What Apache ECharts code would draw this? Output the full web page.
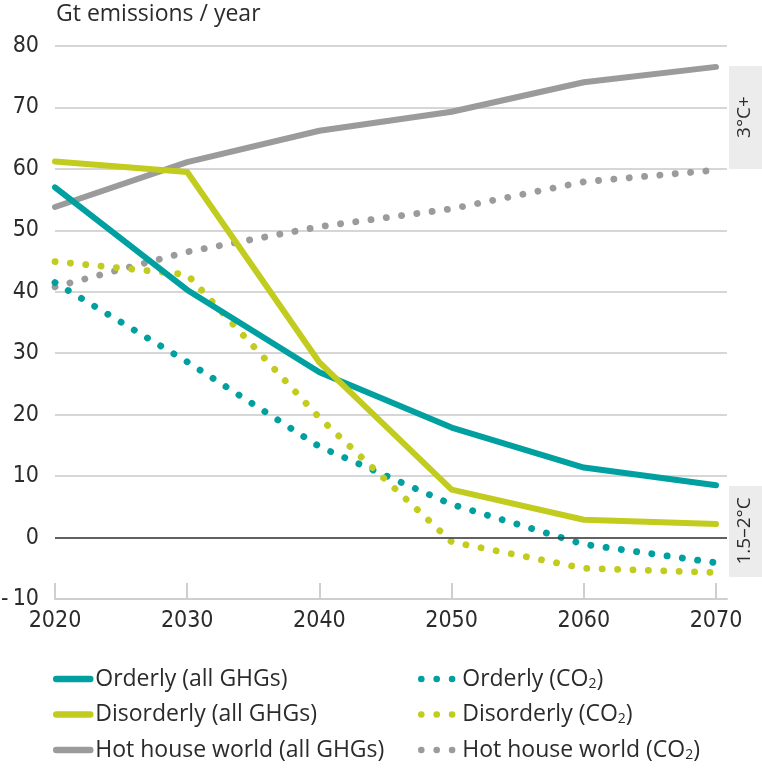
<!DOCTYPE html>
<html><head><meta charset="utf-8">
<script src="https://cdn.jsdelivr.net/npm/echarts@6/dist/echarts.min.js"></script>
<style>html,body{margin:0;padding:0;background:#fff}#c{width:762px;height:769px}</style>
</head><body><div id="c"></div>
<script>
// ---- data ----
const years = [2020, 2030, 2040, 2050, 2060, 2070];
const orderlyGHG    = [57.0, 40.3, 26.9, 17.9, 11.4, 8.5];
const disorderlyGHG = [61.2, 59.5, 28.5, 7.8, 2.9, 2.2];
const hotHouseGHG   = [53.8, 61.1, 66.2, 69.3, 74.1, 76.6];
const orderlyCO2    = [41.5, 28.6, 14.8, 5.4, -1.1, -4.1];
const disorderlyCO2 = [44.9, 42.8, 19.5, -0.7, -5.0, -5.7];
const hotHouseCO2   = [40.8, 46.5, 50.6, 53.5, 57.9, 59.8];
const seriesNamesGHG = ['Orderly (all GHGs)', 'Disorderly (all GHGs)', 'Hot house world (all GHGs)'];
const seriesNamesCO2 = ['Orderly (CO2)', 'Disorderly (CO2)', 'Hot house world (CO2)'];
const yAxisTitle = 'Gt emissions / year';
const bandLabels = ['3°C+', '1.5–2°C'];

const TEAL = '#00a0a0', LIME = '#c2cc1f', GREY = '#9b9b9b';
const AXFONT = '"DejaVu Sans Condensed", "Liberation Sans Narrow", "Liberation Sans", Arial, sans-serif';
const TXFONT = '"Open Sans", "Liberation Sans", Arial, sans-serif';

const pairs = arr => years.map((y, i) => [y, arr[i]]);

function solid(name, data, color) {
  return { name, type: 'line', data: pairs(data), symbol: 'none', z: 3,
    lineStyle: { color, width: 6, cap: 'round', join: 'round' }, itemStyle: { color } };
}
function dotted(name, data, color) {
  return { name, type: 'line', data: pairs(data), symbol: 'none', z: 2,
    lineStyle: { color, width: 6.8, type: [0.1, 15.3], cap: 'round', join: 'round' }, itemStyle: { color } };
}

const series = [
  dotted(seriesNamesCO2[2], hotHouseCO2, GREY),
  dotted(seriesNamesCO2[0], orderlyCO2, TEAL),
  dotted(seriesNamesCO2[1], disorderlyCO2, LIME),
  solid(seriesNamesGHG[2], hotHouseGHG, GREY),
  solid(seriesNamesGHG[0], orderlyGHG, TEAL),
  solid(seriesNamesGHG[1], disorderlyGHG, LIME)
];
series[0].markLine = { silent: true, symbol: 'none', label: { show: false },
  lineStyle: { color: '#3a3a3a', width: 1.5, type: 'solid' }, data: [{ yAxis: 0 }] };

const legendText = {
  fontSize: 23, color: '#2b2b2b', fontFamily: TXFONT, lineHeight: 24,
  rich: { sub: { fontSize: 14, fontFamily: TXFONT, color: '#2b2b2b', padding: [10, 0, 0, 0] } }
};
const legendFmt = n => n.replace('CO2', 'CO{sub|2}');

const chart = echarts.init(document.getElementById('c'), null, { renderer: 'canvas' });
chart.setOption({
  animation: false,
  backgroundColor: '#fff',
  title: { text: yAxisTitle, left: 51, top: -2,
    textStyle: { fontSize: 23, fontWeight: 'normal', color: '#2b2b2b', fontFamily: TXFONT } },
  grid: { left: 55, right: 35, top: 46, bottom: 170, containLabel: false, outerBoundsMode: 'none' },
  xAxis: {
    type: 'value', min: 2020, max: 2070.83, interval: 10,
    axisLine: { show: true, onZero: false, lineStyle: { color: '#cfcfcf', width: 2 } },
    axisTick: { show: true, inside: true, length: 16, customValues: years,
      lineStyle: { color: '#cfcfcf', width: 2 } },
    axisLabel: { customValues: years, margin: 11, fontSize: 23, color: '#2b2b2b', fontFamily: AXFONT,
      formatter: v => String(v) },
    splitLine: { show: false }
  },
  yAxis: {
    type: 'value', min: -10, max: 80, interval: 10,
    axisLine: { show: false }, axisTick: { show: false },
    axisLabel: { margin: 16, fontSize: 23, color: '#2b2b2b', fontFamily: AXFONT,
      formatter: v => v < 0 ? '-\u2009' + Math.abs(v) : String(v) },
    splitLine: { show: true, lineStyle: { color: '#d6d6d6', width: 2 } }
  },
  legend: [
    { data: seriesNamesGHG, orient: 'vertical', left: 53, top: 667, padding: 0,
      itemWidth: 34, itemHeight: 14, itemGap: 11.5, selectedMode: false,
      itemStyle: { opacity: 0 },
      lineStyle: { width: 6.5, cap: 'round' },
      textStyle: legendText, formatter: legendFmt },
    { data: seriesNamesCO2, orient: 'vertical', left: 418, top: 667, padding: 0,
      itemWidth: 36, itemHeight: 14, itemGap: 11.5, selectedMode: false,
      itemStyle: { opacity: 0 },
      lineStyle: { width: 6.5, cap: 'round' },
      textStyle: legendText, formatter: legendFmt }
  ],
  graphic: [
    { type: 'rect', shape: { x: 729, y: 66, width: 33, height: 103 }, style: { fill: '#ececec' }, silent: true },
    { type: 'text', x: 745, y: 117, rotation: Math.PI / 2, silent: true,
      style: { text: bandLabels[0], fontSize: 19, fontFamily: TXFONT, fill: '#2b2b2b', align: 'center', verticalAlign: 'middle' } },
    { type: 'rect', shape: { x: 729, y: 486, width: 33, height: 91 }, style: { fill: '#ececec' }, silent: true },
    { type: 'text', x: 745, y: 531, rotation: Math.PI / 2, silent: true,
      style: { text: bandLabels[1], fontSize: 19, fontFamily: TXFONT, fill: '#2b2b2b', align: 'center', verticalAlign: 'middle' } }
  ],
  series
});
</script>
</body></html>
